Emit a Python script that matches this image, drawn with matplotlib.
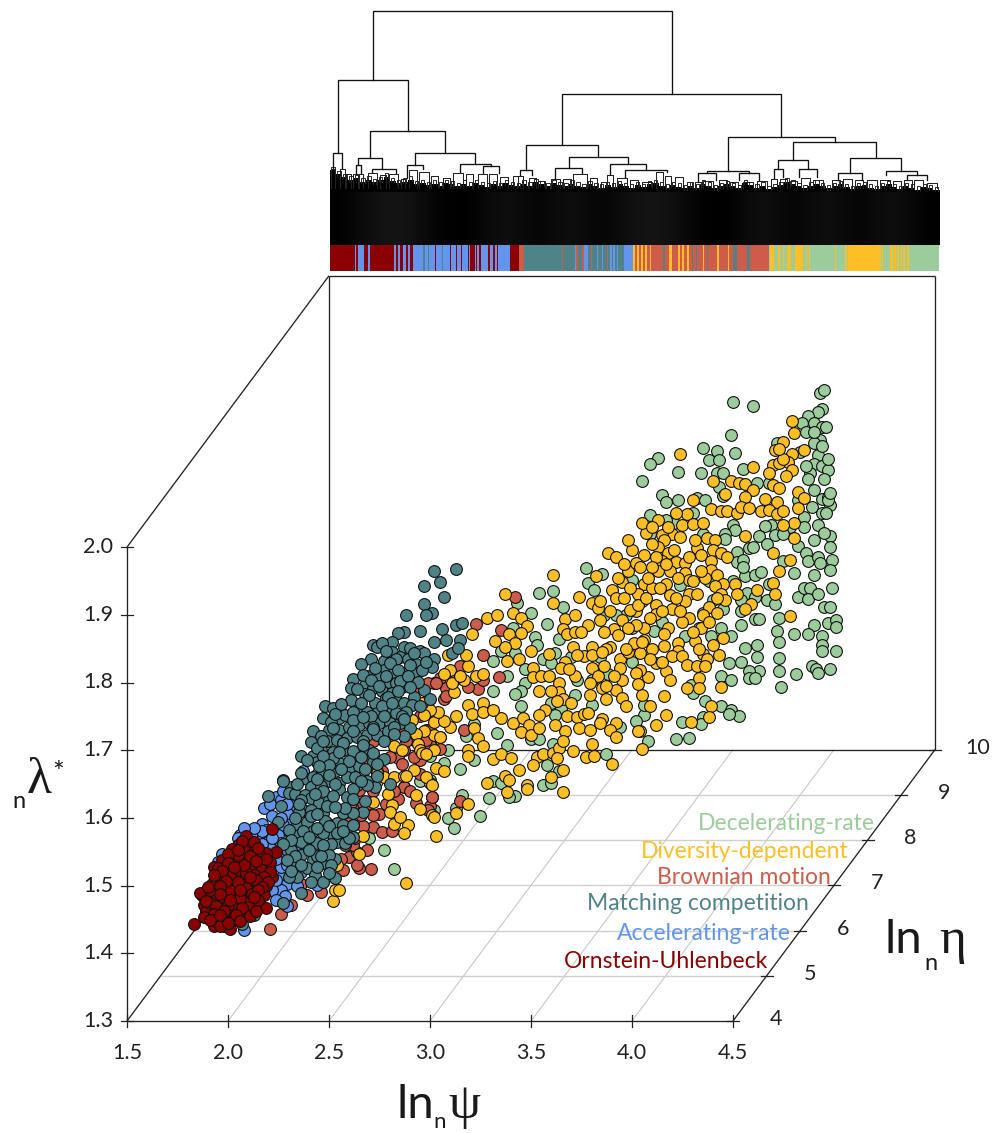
import numpy as np
import matplotlib
matplotlib.use("Agg")
import matplotlib.pyplot as plt

# ---- data: (apparent ln_n psi, apparent nlambda*) read on the front plane (eta = 4) ----
decelerating_rate = [
(4.93,2.228),(4.95,2.232),(4.50,2.214),(4.60,2.208),(4.94,2.204),(4.92,2.199),(4.87,2.193),(4.84,2.184),(4.90,2.184),(4.86,2.170),
(4.94,2.178),(4.96,2.178),(4.93,2.158),(4.90,2.154),(4.72,2.154),(4.49,2.166),(4.35,2.147),(4.42,2.142),(4.51,2.139),(4.38,2.129),
(4.43,2.129),(4.13,2.132),(4.09,2.123),(4.23,2.111),(4.34,2.109),(4.42,2.109),(4.45,2.110),(4.55,2.115),(4.92,2.136),(4.90,2.123),
(4.94,2.120),(4.97,2.114),(4.88,2.110),(4.87,2.100),(4.95,2.101),(4.62,2.094),(4.43,2.089),(4.90,2.085),(4.68,2.095),(4.05,2.097),
(4.15,2.077),(4.17,2.066),(4.23,2.070),(4.32,2.072),(4.36,2.069),(4.45,2.076),(4.94,2.071),(4.97,2.074),(4.98,2.062),(4.89,2.059),
(4.94,2.051),(4.85,2.045),(4.09,2.048),(4.21,2.036),(4.69,2.033),(4.92,2.032),(4.66,2.031),(4.50,2.033),(4.51,2.025),(4.46,2.020),
(4.46,2.012),(4.63,2.016),(4.71,2.018),(4.67,2.005),(4.90,2.011),(4.98,2.016),(4.95,2.021),(4.58,1.999),(4.52,1.993),(4.52,1.978),
(4.55,1.981),(4.82,2.001),(4.86,1.991),(4.87,1.979),(4.92,1.986),(4.99,1.981),(4.93,1.976),(4.98,1.966),(4.56,1.958),(4.61,1.959),
(4.64,1.963),(4.75,1.979),(4.80,1.962),(4.90,1.959),(4.68,1.946),(4.57,1.932),(4.61,1.927),(4.67,1.922),(4.71,1.916),(4.82,1.927),
(4.85,1.939),(4.88,1.939),(4.87,1.924),(4.92,1.930),(4.99,1.939),(4.95,1.912),(4.98,1.912),(4.54,1.905),(4.54,1.885),(4.61,1.894),
(4.63,1.894),(4.73,1.895),(4.97,1.888),(5.01,1.892),(5.01,1.882),(4.90,1.885),(4.72,1.876),(4.80,1.872),(4.87,1.871),(4.94,1.869),
(4.73,1.860),(4.94,1.856),(4.94,1.846),(5.01,1.846),(4.56,1.851),(4.62,1.856),(4.62,1.837),(4.73,1.836),(4.48,1.829),(4.54,1.831),
(4.73,1.817),(4.63,1.817),(4.58,1.817),(4.58,1.806),(4.61,1.806),(4.81,1.813),(4.89,1.824),(4.91,1.820),(4.92,1.814),(4.98,1.820),
(4.74,1.794),(4.44,1.810),(4.49,1.803),(4.29,1.797),(4.30,1.785),(4.36,1.772),(4.44,1.766),(4.49,1.760),(4.53,1.750),(4.48,1.754),
(4.35,1.749),(4.34,1.739),(4.25,1.742),(4.22,1.717),(4.28,1.718),(4.08,1.713),(4.06,1.752),(4.06,1.767),(4.40,1.922),(4.49,1.869),
(4.39,1.869),(4.26,1.868),(4.11,1.876),(4.24,1.944),(4.35,1.903),(4.45,1.908),(4.54,1.922),
(3.77,1.969),(3.61,1.935),(3.54,1.932),(3.43,1.917),(3.66,1.912),(3.50,1.902),(3.78,1.947),(3.81,1.936),(4.00,1.952),(3.58,1.887),
(3.64,1.864),(3.41,1.880),(3.52,1.867),(3.53,1.856),(3.35,1.846),(3.42,1.843),(3.31,1.832),(3.56,1.834),(3.62,1.843),(3.60,1.829),
(3.70,1.838),(3.84,1.838),(3.47,1.820),(3.38,1.809),(3.73,1.804),(3.88,1.812),(3.80,1.804),(3.47,1.799),(3.31,1.788),(3.45,1.787),
(3.42,1.783),(3.72,1.782),(3.80,1.767),(3.60,1.769),(3.45,1.765),(3.65,1.762),(3.62,1.752),(3.33,1.725),(3.50,1.716),(3.54,1.717),
(3.38,1.707),(3.61,1.709),(3.87,1.695),(3.22,1.686),(3.15,1.672),(3.58,1.678),(3.64,1.669),(3.31,1.654),(3.35,1.652),(3.56,1.648),
(3.60,1.652),(3.42,1.633),(3.39,1.631),(3.29,1.630),(3.16,1.634),(3.25,1.603),(3.09,1.600),(3.12,1.585),(3.13,1.615),(4.02,1.743),
(3.07,1.681),(3.09,1.701),(3.22,1.738),(3.18,1.721),(3.00,1.691),(3.94,1.735),(2.95,1.654),(3.00,1.656),(2.77,1.553),(2.82,1.525),
(2.70,1.570),(3.02,1.612),
(4.90,2.170),(4.94,2.150),(4.97,2.130),(4.83,2.140),(4.86,2.120),(4.97,2.070),(4.98,2.080),(4.96,2.050),(4.82,2.070),(4.85,2.030),
(4.78,2.030),(4.75,2.020),(4.98,2.000),(4.60,2.000),(4.55,1.970),(4.30,2.050),(4.17,2.040),(4.09,2.020),(4.35,2.020),(4.50,1.950),
(4.38,1.950),(4.33,1.880),(4.44,1.880),(4.15,1.890),(4.00,1.880),(3.97,1.900),(3.92,1.900),(4.05,1.920),(3.86,1.900),(3.85,1.960),
(4.00,1.830),
]
brownian_motion = [
(3.42,1.926),(3.23,1.886),(3.35,1.878),(3.26,1.840),(3.34,1.808),(3.24,1.790),(3.17,1.730),(3.15,1.625),(3.01,1.631),(3.05,1.702),
(3.05,1.807),(3.02,1.799),(3.08,1.792),(3.07,1.775),(3.15,1.824),(3.12,1.804),(3.19,1.794),(3.26,1.804),(3.02,1.755),(3.00,1.711),
(3.00,1.617),(2.84,1.688),(2.72,1.713),(2.79,1.715),(2.87,1.701),(2.95,1.686),(3.00,1.708),(2.99,1.799),(2.93,1.799),(2.98,1.730),
(2.87,1.728),(2.92,1.715),(2.69,1.686),(2.87,1.646),(2.99,1.774),(2.88,1.713),(2.87,1.645),(3.01,1.631),(2.75,1.606),(2.84,1.628),
(2.72,1.586),(2.67,1.588),(2.76,1.579),(2.81,1.580),(2.65,1.526),(2.71,1.524),(2.60,1.542),(2.64,1.550),(2.69,1.553),(2.62,1.560),
(2.62,1.619),(2.60,1.602),(2.99,1.611),(2.93,1.622),(2.57,1.523),(2.21,1.436),(2.26,1.458),(2.31,1.472),(2.39,1.486),(2.46,1.490),
(2.36,1.503),(2.61,1.622),(2.60,1.592),(2.59,1.582),(2.67,1.622),(2.65,1.641),
(2.92,1.790),(2.98,1.760),(3.03,1.750),(2.95,1.750),(2.98,1.715),(2.92,1.690),(2.86,1.680),(2.80,1.690),(2.76,1.670),(2.82,1.640),
(2.78,1.620),(2.72,1.640),(2.69,1.620),(2.72,1.605),(2.66,1.605),(2.63,1.570),(2.58,1.560),(2.62,1.590),(2.64,1.530),(2.56,1.540),
(3.05,1.720),(3.03,1.800),(3.08,1.780),(2.90,1.640),(2.95,1.665),(3.00,1.730),
]
diversity_dependent = [
(4.79,2.187),(4.80,2.168),(4.75,2.155),(4.71,2.144),(4.85,2.144),(4.79,2.138),(4.77,2.126),(4.70,2.122),(4.73,2.124),(4.79,2.114),
(4.76,2.105),(4.60,2.118),(4.24,2.137),(4.40,2.098),(4.49,2.097),(4.53,2.095),(4.56,2.093),(4.60,2.084),(4.70,2.091),(4.73,2.087),
(4.46,2.079),(4.56,2.074),(4.66,2.071),(4.30,2.069),(4.82,2.081),(4.85,2.072),(4.72,2.066),(4.82,2.058),(4.39,2.056),(4.44,2.054),
(4.47,2.054),(4.52,2.050),(4.54,2.059),(4.58,2.058),(4.64,2.054),(4.68,2.055),(4.72,2.049),(4.75,2.053),(4.13,2.040),(4.27,2.049),
(4.80,2.036),(4.75,2.032),(4.25,2.033),(4.30,2.034),(4.07,2.021),(4.20,2.020),(4.15,2.018),(4.16,2.011),(4.37,2.013),(4.41,2.010),
(4.56,2.017),(4.80,2.014),(4.32,1.998),(4.13,2.000),(4.18,1.992),(4.40,1.996),(4.44,1.992),(4.34,1.988),(4.47,1.985),(4.70,1.991),
(4.78,1.981),(4.15,1.980),(4.22,1.978),(4.06,1.989),(4.26,1.976),(4.39,1.979),(4.13,1.964),(4.19,1.964),(4.26,1.962),(4.39,1.966),
(4.42,1.959),(4.36,1.954),(4.73,1.964),(4.28,1.952),(4.45,1.946),(4.51,1.946),(4.70,1.947),(4.06,1.946),(4.41,1.943),(4.62,1.936),
(4.71,1.930),(4.52,1.931),(4.44,1.931),(4.19,1.929),(4.28,1.931),(4.12,1.915),(4.26,1.920),(4.46,1.922),(4.59,1.916),(4.56,1.909),
(4.20,1.908),(4.38,1.912),(4.78,1.898),(4.12,1.901),(4.28,1.896),(4.42,1.902),(4.35,1.899),(4.25,1.890),(4.18,1.880),(4.34,1.880),
(4.06,1.880),(4.16,1.871),(4.45,1.866),(4.31,1.862),(4.16,1.854),(4.06,1.863),(4.23,1.859),(4.23,1.847),(4.20,1.839),(4.35,1.842),
(4.43,1.840),(4.25,1.839),(4.27,1.826),(4.37,1.834),(4.32,1.824),(4.12,1.829),(4.17,1.817),(4.08,1.808),(4.19,1.804),(4.04,1.819),
(4.33,1.806),(4.27,1.792),(4.33,1.792),(4.44,1.794),(4.16,1.780),(4.09,1.765),(4.39,1.765),(4.17,1.752),(4.12,1.737),(4.38,1.749),
(4.29,1.741),(4.05,1.702),(4.04,1.728),(4.05,1.782),
(3.61,1.959),(3.37,1.931),(3.61,1.917),(3.74,1.926),(3.41,1.903),(3.28,1.895),(3.45,1.895),(3.48,1.884),(3.67,1.894),(3.72,1.899),
(3.80,1.917),(3.83,1.910),(3.84,1.920),(3.90,1.937),(3.95,1.948),(3.82,1.958),(3.98,1.965),(4.02,1.976),(3.88,1.992),(3.92,1.986),
(4.03,1.930),(3.92,1.925),(3.89,1.905),(3.84,1.893),(3.78,1.885),(3.66,1.879),(3.68,1.871),(3.72,1.875),(3.75,1.875),(3.39,1.871),
(3.45,1.873),(3.42,1.858),(3.37,1.853),(3.32,1.861),(3.21,1.872),(3.50,1.846),(3.44,1.835),(3.38,1.832),(3.59,1.842),(3.67,1.830),
(3.65,1.821),(3.51,1.821),(3.51,1.808),(3.71,1.853),(3.76,1.839),(3.80,1.853),(3.80,1.840),(3.80,1.821),(3.83,1.810),(3.91,1.879),
(3.95,1.892),(3.89,1.853),(3.94,1.834),(3.98,1.845),(3.94,1.821),(4.04,1.843),(4.02,1.814),(3.95,1.803),(4.03,1.798),(3.64,1.799),
(3.64,1.786),(3.66,1.776),(3.63,1.772),(3.60,1.787),(3.54,1.788),(3.79,1.782),(3.85,1.792),(3.92,1.789),(3.87,1.775),(3.95,1.777),
(3.97,1.766),(4.03,1.728),(3.92,1.740),(3.85,1.746),(3.89,1.730),(3.92,1.719),(3.57,1.759),(3.54,1.752),(3.68,1.751),(3.73,1.749),
(3.76,1.754),(3.67,1.728),(3.62,1.737),(3.74,1.733),(3.79,1.730),(3.41,1.740),(3.35,1.748),(3.46,1.748),(3.49,1.737),(3.45,1.727),
(3.50,1.723),(3.54,1.733),(3.19,1.767),(3.26,1.769),(3.21,1.754),(3.26,1.756),(3.31,1.760),(3.13,1.751),(3.10,1.735),(3.22,1.733),
(3.24,1.718),(3.26,1.706),(3.19,1.701),(3.19,1.692),(3.31,1.687),(3.35,1.695),(3.40,1.688),(3.53,1.690),(3.56,1.695),(3.61,1.696),
(3.64,1.703),(3.66,1.713),(3.71,1.699),(3.63,1.688),(3.80,1.709),(3.77,1.690),(3.81,1.692),(3.90,1.679),(3.51,1.678),(3.44,1.671),
(3.37,1.662),(3.39,1.656),(3.28,1.652),(3.48,1.649),(3.48,1.643),(3.38,1.638),(3.60,1.661),(3.66,1.671),(3.66,1.638),(3.19,1.621),
(3.13,1.607),(3.03,1.573),(3.17,1.803),(3.23,1.809),(3.19,1.824),(3.10,1.819),(3.07,1.813),(3.12,1.786),(3.26,1.813),(3.18,1.840),
(3.02,1.742),(3.07,1.743),(3.04,1.756),(3.01,1.605),(3.03,1.674),(3.07,1.669),(3.00,1.652),(3.02,1.723),(3.00,1.760),(4.02,1.905),
(3.99,1.907),(4.01,1.858),
(2.97,1.729),(2.93,1.724),(2.82,1.706),(2.94,1.709),(2.95,1.701),(2.96,1.696),(2.74,1.670),(2.74,1.654),(2.77,1.661),(2.82,1.661),
(2.87,1.662),(2.92,1.671),(2.98,1.660),(2.97,1.752),(2.74,1.667),(2.72,1.624),(2.81,1.619),(2.80,1.608),(2.93,1.634),(2.95,1.613),
(3.02,1.601),(2.88,1.504),(2.89,1.590),(2.82,1.591),(2.85,1.602),(2.87,1.577),(2.67,1.574),(3.01,1.649),(2.88,1.662),(2.79,1.636),
(2.65,1.546),(2.52,1.477),(2.53,1.493),(2.55,1.493),(2.54,1.530),
(4.10,2.005),(4.12,1.985),(4.10,1.970),(4.17,1.975),(4.21,1.995),(4.24,2.015),(4.28,1.985),(4.31,2.010),(4.23,1.955),(4.17,1.945),
(4.10,1.940),(4.08,1.955),(4.04,1.970),(4.00,1.995),(3.98,2.010),(3.96,1.975),(3.99,1.940),(3.93,1.955),(3.96,1.925),(4.03,1.915),
(4.07,1.925),(4.14,1.940),(4.22,1.925),(4.30,1.950),(4.34,1.965),(4.32,1.930),(4.24,1.905),(4.15,1.905),(4.09,1.895),(4.02,1.885),
(3.98,1.880),(3.93,1.870),(3.97,1.850),(3.86,1.875),(3.87,1.850),(3.86,1.825),(3.91,1.810),(4.05,1.860),(4.10,1.850),(4.15,1.830),
(4.09,1.835),(4.30,1.875),(4.38,1.890),(4.40,1.855),(4.33,1.850),(4.36,1.825),(4.42,1.925),(4.35,2.035),(4.05,2.035),(4.10,2.030),
(4.18,2.030),(4.22,2.050),(4.75,2.130),(4.73,2.145),(4.68,2.110),(3.33,1.900),(3.72,1.810),(3.55,1.810),(3.59,1.810),(3.69,1.820),
(3.73,1.840),(3.85,1.845),(3.79,1.800),(3.87,1.795),(3.78,1.755),(3.70,1.770),(3.84,1.740),(3.02,1.700),(2.98,1.695),(2.86,1.700),
(2.91,1.745),(3.05,1.720),(2.96,1.770),(3.11,1.800),(3.15,1.810),(3.09,1.840),
]
accelerating_rate = [
(2.18,1.615),(2.22,1.603),(2.17,1.591),(2.24,1.631),(2.26,1.626),(2.31,1.594),(2.27,1.590),(2.06,1.575),(1.97,1.547),(2.20,1.565),
(2.25,1.575),(2.29,1.560),(2.26,1.563),(2.27,1.543),(2.21,1.555),(2.08,1.435),(2.31,1.575),(2.34,1.582),(2.22,1.531),(2.27,1.516),
(2.26,1.528),(2.29,1.503),(2.26,1.494),(2.31,1.528),(2.31,1.619),(2.15,1.575),(1.97,1.518),(2.22,1.494),(2.44,1.501),(2.19,1.582),
(2.12,1.577),(2.32,1.609),(2.29,1.607),(2.10,1.484),(2.09,1.459),(2.24,1.508),(2.17,1.562),(2.34,1.558),(2.32,1.538),(2.39,1.587),
(2.37,1.612),(2.37,1.669),
(2.28,1.485),(2.24,1.478),(2.32,1.515),(2.29,1.530),(2.24,1.540),(2.22,1.570),(2.17,1.580),(2.13,1.585),(2.08,1.585),(2.05,1.570),
(2.26,1.600),(2.29,1.620),(2.21,1.620),(2.27,1.640),(1.95,1.535),(2.34,1.500),(2.36,1.520),(2.29,1.470),
]
matching_competition = [
(3.02,1.965),(3.13,1.968),(3.05,1.948),(2.97,1.943),(3.07,1.926),(2.97,1.916),(3.01,1.903),(2.98,1.900),(2.88,1.899),(2.95,1.876),
(3.06,1.879),(3.13,1.885),(3.16,1.888),(3.02,1.860),(3.08,1.863),(2.87,1.874),(2.84,1.873),(3.15,1.863),(3.11,1.843),(3.14,1.851),
(2.81,1.860),(2.72,1.856),(2.74,1.852),(2.76,1.858),(2.87,1.853),(2.90,1.851),(2.95,1.847),(2.97,1.844),(2.81,1.845),(2.71,1.834),
(2.66,1.827),(2.77,1.832),(2.85,1.838),(2.89,1.834),(3.02,1.834),(3.01,1.823),(2.93,1.828),(2.77,1.819),(2.82,1.816),(2.87,1.814),
(2.92,1.814),(2.96,1.819),(2.62,1.805),(2.69,1.809),(2.74,1.809),(2.79,1.801),(2.83,1.799),(2.61,1.792),(2.68,1.796),(2.72,1.792),
(2.76,1.787),(2.81,1.784),(2.86,1.794),(2.97,1.789),(3.00,1.775),(2.68,1.783),(2.61,1.774),(2.92,1.778),(2.83,1.774),(2.78,1.777),
(2.73,1.769),(2.87,1.769),(2.91,1.767),(2.95,1.765),(2.48,1.765),(2.52,1.763),(2.47,1.748),(2.55,1.747),(2.58,1.752),(2.64,1.757),
(2.69,1.757),(2.74,1.755),(2.79,1.760),(2.83,1.755),(2.88,1.757),(2.42,1.729),(2.50,1.730),(2.55,1.730),(2.60,1.735),(2.65,1.737),
(2.70,1.740),(2.75,1.740),(2.80,1.740),(2.85,1.740),(2.90,1.733),(2.41,1.712),(2.49,1.714),(2.54,1.715),(2.59,1.718),(2.64,1.720),
(2.69,1.723),(2.74,1.723),(2.79,1.728),(2.87,1.721),(2.36,1.691),(2.42,1.691),(2.46,1.700),(2.52,1.698),(2.57,1.701),(2.64,1.693),
(2.70,1.701),(2.44,1.683),(2.50,1.686),(2.55,1.681),(2.60,1.671),(2.77,1.687),(2.72,1.683),(2.39,1.657),(2.27,1.656),(2.47,1.666),
(2.53,1.669),(2.65,1.676),(2.42,1.661),(2.50,1.654),(2.55,1.651),(2.59,1.661),(2.69,1.654),(2.80,1.650),(2.73,1.645),(2.46,1.644),
(2.41,1.646),(2.31,1.646),
(2.20,1.633),(2.26,1.617),(2.27,1.654),(2.30,1.637),(2.35,1.609),(2.33,1.635),(2.38,1.634),(2.41,1.630),(2.46,1.647),(2.55,1.642),
(2.64,1.649),(2.69,1.649),(2.67,1.609),(2.45,1.622),(2.50,1.626),(2.59,1.631),(2.41,1.612),(2.47,1.607),(2.52,1.575),(2.54,1.592),
(2.57,1.607),(2.34,1.590),(2.39,1.594),(2.42,1.580),(2.47,1.577),(2.54,1.565),(2.58,1.563),(2.33,1.570),(2.38,1.560),(2.44,1.563),
(2.49,1.548),(2.53,1.539),(2.29,1.553),(2.36,1.545),(2.42,1.538),(2.47,1.533),(2.32,1.531),(2.39,1.526),(2.43,1.516),(2.47,1.506),
(2.53,1.511),(2.34,1.513),(2.36,1.489),(2.27,1.475),(2.07,1.443),(2.13,1.457),(2.30,1.513),(2.25,1.594),(2.49,1.592),(2.62,1.607),
(2.44,1.543),(2.35,1.575),(2.62,1.572),(2.31,1.553),
(2.78,1.846),(2.83,1.835),(2.92,1.843),(2.73,1.821),(2.80,1.829),(2.84,1.819),(2.90,1.826),(2.98,1.830),(2.67,1.811),(2.71,1.803),
(2.78,1.810),(2.85,1.802),(2.89,1.809),(2.94,1.801),(2.64,1.790),(2.70,1.781),(2.75,1.795),(2.79,1.778),(2.84,1.788),(2.90,1.793),
(2.56,1.768),(2.62,1.757),(2.66,1.770),(2.71,1.751),(2.76,1.766),(2.81,1.770),(2.86,1.750),(2.51,1.741),(2.53,1.753),(2.62,1.744),
(2.67,1.749),(2.72,1.734),(2.77,1.750),(2.82,1.735),(2.87,1.746),(2.46,1.721),(2.52,1.733),(2.57,1.710),(2.62,1.729),(2.67,1.714),
(2.72,1.732),(2.77,1.713),(2.82,1.724),(2.44,1.703),(2.47,1.714),(2.52,1.689),(2.57,1.711),(2.62,1.699),(2.67,1.708),(2.72,1.696),
(2.39,1.685),(2.47,1.692),(2.50,1.678),(2.55,1.697),(2.60,1.684),(2.66,1.690),(2.74,1.679),(2.36,1.667),(2.45,1.677),(2.50,1.664),
(2.56,1.672),(2.63,1.660),(2.68,1.672),(2.74,1.662),(2.34,1.650),(2.44,1.657),(2.47,1.639),(2.53,1.650),(2.62,1.643),(2.66,1.655),
(2.36,1.626),(2.43,1.636),(2.49,1.618),(2.52,1.632),(2.58,1.614),(2.62,1.628),(2.68,1.625),(2.35,1.620),(2.41,1.603),(2.48,1.596),
(2.53,1.616),(2.57,1.590),(2.62,1.590),(2.33,1.600),(2.37,1.581),(2.44,1.606),(2.50,1.588),(2.54,1.578),(2.60,1.570),(2.30,1.582),
(2.36,1.565),(2.44,1.585),(2.51,1.561),(2.57,1.580),(2.31,1.568),(2.40,1.553),(2.47,1.560),(2.50,1.545),(2.27,1.562),(2.33,1.543),
(2.40,1.572),(2.46,1.544),(2.51,1.530),(2.29,1.538),(2.36,1.530),(2.44,1.527),(2.50,1.518),(2.31,1.522),(2.41,1.505),
]
ornstein_uhlenbeck = [
(1.83,1.444),(2.22,1.583),(2.09,1.574),(2.05,1.560),(2.02,1.554),(1.97,1.538),(1.93,1.527),(1.94,1.508),(1.92,1.503),(1.87,1.486),
(1.88,1.483),(1.88,1.471),(1.91,1.464),(1.89,1.454),(1.93,1.441),(1.98,1.440),(2.01,1.436),(2.07,1.459),(2.09,1.462),(2.13,1.474),
(2.16,1.486),(2.19,1.499),(2.22,1.513),(2.24,1.550),(2.19,1.548),(2.16,1.543),(2.12,1.560),(2.08,1.553),(2.13,1.565),(2.06,1.538),
(2.03,1.540),(1.99,1.528),(2.01,1.516),(2.06,1.523),(2.11,1.531),(2.17,1.526),(2.13,1.516),(2.08,1.508),(2.03,1.501),(1.98,1.503),
(1.95,1.494),(1.93,1.484),(1.98,1.479),(2.03,1.484),(2.08,1.489),(2.13,1.499),(2.18,1.486),(1.96,1.467),(2.01,1.462),(2.05,1.472),
(2.10,1.476),(1.94,1.452),(1.89,1.462),(1.86,1.489),(1.91,1.474),(1.98,1.449),(2.03,1.449),(2.16,1.508),(2.09,1.518),(2.21,1.535),
(2.05,1.545),(1.96,1.513),(2.01,1.494),(1.91,1.494),(1.88,1.454),(1.96,1.440),(2.10,1.503),(2.16,1.471),(2.19,1.467),
(2.07,1.566),(2.15,1.556),(2.19,1.540),(2.00,1.546),(2.05,1.552),(2.11,1.544),(2.21,1.520),(1.95,1.526),(2.00,1.534),(2.08,1.530),
(2.14,1.537),(2.18,1.512),(1.97,1.522),(2.03,1.527),(2.09,1.497),(2.14,1.508),(2.20,1.505),(1.93,1.516),(1.99,1.507),(2.05,1.505),
(2.11,1.512),(2.17,1.498),(1.90,1.498),(1.96,1.500),(2.06,1.482),(2.12,1.487),(2.15,1.494),(1.89,1.477),(1.96,1.487),(2.00,1.472),
(2.06,1.493),(2.11,1.468),(2.15,1.479),(1.94,1.470),(2.01,1.479),(2.07,1.467),(2.13,1.483),(1.93,1.458),(1.98,1.462),(2.04,1.456),
(2.11,1.455),(2.14,1.463),(1.91,1.449),(1.96,1.456),(2.00,1.445),(2.06,1.447),
]

x_ticks = [1.5, 2.0, 2.5, 3.0, 3.5, 4.0, 4.5]
y_ticks = [1.3, 1.4, 1.5, 1.6, 1.7, 1.8, 1.9, 2.0]
eta_ticks = [4, 5, 6, 7, 8, 9, 10]

legend_names = ["Decelerating-rate", "Diversity-dependent", "Brownian motion",
                "Matching competition", "Accelerating-rate", "Ornstein-Uhlenbeck"]

# dendrogram: (left leaf, right leaf, height, left child height, right child height)
tree_nodes = [
(128,1025,703,496,454),(23,233,496,275,341),(697,1354,454,299,325),(10,36,275,230,230),(120,346,341,261,275),
(85,156,261,239,227),(256,436,275,240,242),(77,93,239,215,215),(127,197,227,220,217),(232,280,240,200,227),
(389,484,242,220,238),(460,508,238,215,215),(588,805,299,225,264),(571,607,225,210,210),(716,894,264,232,244),
(675,757,232,200,215),(840,948,244,213,225),(884,1012,225,205,220),(1194,1514,325,223,310),(1130,1258,223,215,216),
(1104,1158,215,190,195),(1228,1288,216,195,195),(1389,1638,310,255,260),(1345,1435,255,227,229),(1331,1358,227,200,205),
(1407,1462,229,205,205),(1560,1714,260,216,222),(1525,1595,216,195,195),(1669,1760,222,210,210),(1730,1790,210,195,195),
]
# small branches just above the black band: (left leaf, right leaf, height)
twigs = [
(3,16,228),(30,44,228),(47,62,212),(70,84,212),(88,100,214),(113,140,216),(150,168,210),(178,205,214),(212,226,198),
(238,262,224),(268,296,218),(302,325,208),(338,360,200),(368,400,216),(408,430,214),(445,470,212),(478,500,212),(510,535,205),
(548,563,206),(565,580,208),(596,618,200),(625,646,192),(662,690,198),(700,722,198),(730,770,212),(780,800,200),(812,830,190),
(832,848,210),(862,890,200),(900,925,196),(935,965,190),(978,1000,218),(1004,1024,208),(1036,1060,204),(1070,1085,190),(1095,1112,188),
(1120,1150,192),(1168,1190,196),(1200,1225,188),(1240,1270,190),(1280,1312,192),(1322,1340,198),(1350,1372,198),(1380,1402,192),
(1412,1440,200),(1450,1478,196),(1505,1530,195),(1540,1565,198),(1575,1600,196),(1610,1640,194),(1650,1680,196),(1690,1712,192),
(1722,1745,194),(1752,1780,196),(1790,1822,186),
]
band_top = [224,212,204,196,200,190,196,188,194,205,192,186,190,196,183,186,180,184,178,186,182,176,184,178,186,180,175,183,177,185,
            180,176,184,178,188,182,176,186,180,176,184,178,174,182,176,172,180,175,183,177,172,180,174,182,186,178,172,180,175,170,
            178,172,184,178,170,176,182,176,170,186,180,172,178,168,174,180,190,184,176,170,178,184,176,170,176,182,174,168,176,180,
            172,168,176,182,174,168,176,172,166,174,170,165]
band_shade = [0.0,0.08,0.08,0.0,0.0,0.08,0.0,0.08,0.0,0.08,0.08,0.0,0.0,0.08,0.0,0.08,0.0,0.08,0.0]

strip_segments = [
(75,"O"),(79,"A"),(84,"O"),(102,"A"),(115,"O"),(119,"A"),(192,"O"),(197,"A"),(204,"O"),(210,"A"),(218,"O"),(228,"A"),(233,"O"),(239,"A"),
(249,"O"),(280,"A"),(284,"M"),(293,"A"),(297,"M"),(315,"A"),(318,"O"),(337,"A"),(340,"M"),(360,"A"),(364,"O"),(377,"A"),(381,"O"),(392,"A"),
(396,"O"),(413,"A"),(417,"O"),(421,"A"),(435,"O"),(438,"A"),(442,"O"),(448,"A"),(452,"O"),(475,"A"),(479,"O"),(490,"A"),(495,"O"),(502,"A"),
(505,"O"),(540,"A"),(545,"O"),(547,"A"),(567,"O"),(582,"B"),(697,"M"),(700,"B"),(735,"M"),(739,"A"),(745,"B"),(755,"M"),(763,"B"),(775,"A"),
(782,"M"),(787,"B"),(800,"M"),(805,"A"),(815,"M"),(819,"A"),(830,"M"),(835,"B"),(841,"M"),(845,"A"),(850,"M"),(855,"A"),(860,"M"),(865,"A"),
(882,"M"),(910,"A"),(916,"D"),(920,"B"),(928,"D"),(932,"B"),(938,"D"),(945,"B"),(950,"D"),(960,"B"),(964,"D"),(1000,"B"),(1004,"M"),(1017,"B"),
(1027,"D"),(1045,"B"),(1050,"D"),(1056,"B"),(1062,"D"),(1070,"B"),(1077,"D"),(1085,"B"),(1090,"M"),(1097,"B"),(1100,"M"),(1120,"B"),(1122,"D"),
(1130,"B"),(1133,"M"),(1161,"B"),(1167,"D"),(1195,"B"),(1198,"D"),(1210,"B"),(1222,"M"),(1252,"B"),(1260,"M"),(1317,"B"),(1320,"E"),(1332,"D"),
(1345,"E"),(1350,"D"),(1358,"E"),(1362,"D"),(1372,"E"),(1382,"D"),(1395,"E"),(1420,"D"),(1427,"E"),(1432,"D"),(1438,"E"),(1440,"D"),(1515,"E"),
(1518,"D"),(1545,"E"),(1552,"D"),(1555,"E"),(1652,"D"),(1657,"E"),(1660,"D"),(1680,"E"),(1690,"D"),(1693,"E"),(1698,"D"),(1702,"E"),(1708,"D"),
(1712,"E"),(1716,"D"),(1720,"E"),(1726,"D"),(1730,"E"),(1736,"D"),(1828,"E"),
]

COL = {"E": "#9CCC9C", "D": "#FEBF26", "B": "#CD5C4A", "M": "#508388", "A": "#6495ED", "O": "#8B0000"}
legend_colors = [COL["E"], COL["D"], COL["B"], COL["M"], COL["A"], COL["O"]]
FONT = ["Lato", "DejaVu Sans"]
GREEK = "Liberation Serif"

W, H = 993, 1133
fig = plt.figure(figsize=(W / 100, H / 100), dpi=100, facecolor="white")
ax = fig.add_axes([0, 0, 1, 1])
PX_X, PX_Y = 202.0, 677.0
ax.set_xlim(1.5 - 127 / PX_X, 1.5 + (W - 127) / PX_X)
ax.set_ylim(1.3 - (H - 1021) / PX_Y, 1.3 + 1021 / PX_Y)
ax.set_axis_off()


def shear(psi, eta, lam):
    return psi + (eta - 4) / 6.0, lam + (eta - 4) * 0.0668


def line(p, q, **kw):
    ax.plot([p[0], q[0]], [p[1], q[1]], solid_capstyle="butt", **kw)


# floor grid
for e in eta_ticks[1:-1]:
    line(shear(1.5, e, 1.3), shear(4.5, e, 1.3), color="#cfcfcf", lw=1.0, zorder=1)
for p in x_ticks[1:-1]:
    line(shear(p, 4, 1.3), shear(p, 10, 1.3), color="#c8c8c8", lw=0.8, zorder=1)

# frame
frame = dict(color="#222222", lw=0.95, zorder=2)
for a, b in [((1.5, 4, 1.3), (4.5, 4, 1.3)), ((1.5, 4, 1.3), (1.5, 4, 2.0)), ((1.5, 4, 2.0), (1.5, 10, 2.0)),
             ((1.5, 10, 2.0), (4.5, 10, 2.0)), ((1.5, 10, 2.0), (1.5, 10, 1.3)), ((4.5, 10, 2.0), (4.5, 10, 1.3)),
             ((1.5, 10, 1.3), (4.5, 10, 1.3)), ((1.5, 4, 1.3), (1.5, 10, 1.3)), ((4.5, 4, 1.3), (4.5, 10, 1.3))]:
    line(shear(*a), shear(*b), **frame)

# ticks and their labels
tx, ty = 6 / PX_X, 6 / PX_Y
TICK = dict(ha="center", va="center", fontsize=15.5, family=FONT, color="#222222")
for v in x_ticks:
    ax.plot([v, v], [1.3 - ty, 1.3 + ty], color="#222222", lw=0.9, zorder=2)
    ax.text(v, 1.3 - 32 / PX_Y, f"{v:.1f}", **TICK)
for v in y_ticks:
    ax.plot([1.5 - tx, 1.5 + tx], [v, v], color="#222222", lw=0.9, zorder=2)
    ax.text(1.5 - 14 / PX_X, v, f"{v:.1f}", **{**TICK, "ha": "right"})
for v in eta_ticks:
    x0, y0 = shear(4.5, v, 1.3)
    ax.plot([x0 - tx, x0 + tx], [y0, y0], color="#222222", lw=0.9, zorder=2)
    ax.text(x0 + 43 / PX_X, y0 + 2 / PX_Y, str(v), **TICK)

# points
for pts, key in [(decelerating_rate, "E"), (brownian_motion, "B"), (diversity_dependent, "D"),
                 (accelerating_rate, "A"), (matching_competition, "M"), (ornstein_uhlenbeck, "O")]:
    arr = np.array(pts)
    ax.scatter(arr[:, 0], arr[:, 1], s=72, c=COL[key], edgecolors="#111111", linewidths=0.8, zorder=3, clip_on=False)


def ftext(x, y, s, size, **kw):
    kw.setdefault("family", FONT)
    kw.setdefault("color", "#1a1a1a")
    kw.setdefault("ha", "left")
    kw.setdefault("va", "baseline")
    fig.text(x / W, 1 - y / H, s, fontsize=size, zorder=6, **kw)


# legend text
for name, col, xr, yc in zip(legend_names, legend_colors, [875, 849, 831, 809, 791, 768], [823, 851, 877, 904, 934, 962]):
    ftext(xr, yc, name, 16.5, color=col, ha="right", va="center")

# axis titles
ftext(396, 1118, "ln", 34)
ftext(433, 1128, "n", 16)
ftext(448, 1118, "\u03c8", 37, family=GREEK)
ftext(885, 953, "ln", 34)
ftext(924, 970, "n", 17)
ftext(939, 953, "\u03b7", 37, family=GREEK)
ftext(12, 808, "n", 17)
ftext(27, 793, "\u03bb", 37, family=GREEK)
ftext(52, 782, "*", 20)

# dendrogram, heat strip
dax = fig.add_axes([330 / W, 1 - 272 / H, 609.3 / W, 272 / H])
dax.patch.set_alpha(0)
dax.set_axis_off()
edges = np.linspace(0, 1828, len(band_top) + 1)
dax.imshow(np.array(band_shade)[None, :], extent=(0, 1828, 0, 164), aspect="auto", cmap="gray",
           vmin=0, vmax=1, interpolation="bicubic", zorder=1)
dax.stairs(band_top, edges, baseline=160, fill=True, color="black", zorder=1)
for left, top in zip(edges[:-1], band_top):
    dax.plot([left + 4, left + 4, left + 14, left + 14], [top - 4, top + 10, top + 10, top - 4],
             color="#2a2a2a", lw=0.7, zorder=2)
for a, b, h in twigs:
    dax.plot([a, a, b, b], [170, h, h, 170], color="#222222", lw=0.75, zorder=2)
for a, b, h, hl, hr in tree_nodes:
    dax.plot([a, a, b, b], [hl, h, h, hr], color="#111111", lw=0.95, zorder=3, solid_joinstyle="miter")
start = 0
for end, cat in strip_segments:
    dax.bar(start, -76, width=end - start, bottom=-1, align="edge", color=COL[cat], lw=0, zorder=2)
    start = end
dax.set_xlim(0, 1828)
dax.set_ylim(-81, 735)

fig.savefig("out.png", dpi=100, facecolor="white")
